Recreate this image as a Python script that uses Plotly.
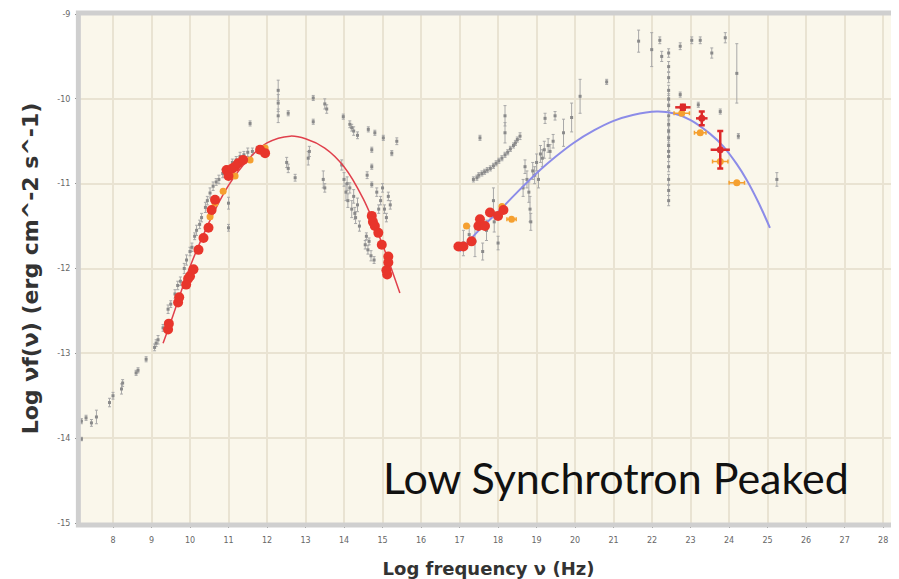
import plotly.graph_objects as go

# ---------------- data ----------------
# archival (gray) points: log nu, log nuFnu, vertical error
gray_x = [7.18, 7.30, 7.44, 7.57, 7.18, 7.91, 8.00, 8.22, 8.25, 8.60, 8.65, 8.86, 9.08, 9.12, 9.17, 9.30, 9.43, 9.50,
          9.61, 9.75, 9.91, 10.00, 10.17, 10.30, 10.52, 10.60, 10.75, 10.95, 11.10, 11.30, 11.50, 11.00, 11.00, 11.56,
          9.68, 9.85, 10.05, 10.12, 10.25, 10.40, 10.45, 10.68, 10.85, 11.20, 11.40, 11.62, 11.75,
          12.29, 12.29, 12.29, 12.55, 12.51, 12.55, 12.73, 13.07, 13.10, 13.20, 13.20, 13.50, 13.55, 13.46, 13.50, 13.94, 13.98,
          14.15, 14.20, 14.25, 14.35, 14.63, 14.80, 15.02, 15.37, 15.24, 14.72, 14.72, 14.72, 14.60,
          14.00, 14.05, 14.10, 14.20, 14.30, 14.35, 14.15, 14.40, 14.08, 14.25, 14.28,
          14.85, 14.95, 15.05, 15.15, 14.90, 15.10, 15.00, 15.20,
          14.55, 14.62, 14.70, 14.78, 14.65, 14.58,
          17.36, 17.45, 17.50, 17.58, 17.65, 17.72, 17.80, 17.88, 17.95, 18.02, 18.10, 18.18, 18.25, 18.32, 18.40, 18.45, 18.50, 18.57,
          17.53, 18.18, 18.18, 17.88, 17.90, 17.40, 18.00, 17.10, 17.25, 17.60, 17.70,
          18.65, 18.75, 18.83, 18.90, 19.00, 19.10, 19.20, 19.30, 19.43, 18.70, 19.05, 18.80, 18.95, 19.15, 19.35, 18.85,
          19.22, 19.48, 19.70, 19.91, 20.13, 20.82,
          22.43, 22.43, 22.43, 22.43, 22.43, 22.43, 22.43, 22.43, 22.43, 22.43, 22.43, 22.43, 22.43, 22.43, 22.43, 22.43, 22.43,
          21.65, 21.99, 22.20, 22.25, 22.73, 23.03, 23.25, 23.55, 23.90, 24.20, 22.73, 23.77, 23.20, 24.24, 25.24]
gray_y = [-13.80, -13.76, -13.82, -13.75, -14.01, -13.58, -13.50, -13.42, -13.35, -13.23, -13.20, -13.07, -12.93, -12.88, -12.84, -12.70, -12.48, -12.42,
          -12.30, -12.15, -11.90, -11.80, -11.55, -11.40, -11.11, -11.03, -10.95, -10.84, -10.75, -10.68, -10.63, -11.23, -11.52, -10.29,
          -12.20, -12.00, -11.75, -11.62, -11.48, -11.28, -11.20, -10.98, -10.88, -10.72, -10.66, -10.62, -10.60,
          -9.90, -10.05, -10.20, -10.17, -10.75, -10.82, -10.93, -10.70, -10.62, -9.99, -10.27, -10.06, -10.12, -10.95, -11.05, -10.78, -10.21,
          -10.30, -10.34, -10.38, -10.43, -10.36, -10.40, -10.46, -10.50, -10.64, -10.60, -10.80, -11.01, -10.90,
          -10.95, -11.10, -11.20, -11.30, -11.40, -11.25, -11.05, -11.50, -11.00, -11.15, -11.35,
          -11.10, -11.20, -11.30, -11.15, -11.30, -11.40, -11.05, -11.25,
          -11.72, -11.78, -11.85, -11.90, -11.68, -11.62,
          -10.95, -10.93, -10.90, -10.88, -10.86, -10.84, -10.82, -10.79, -10.76, -10.73, -10.70, -10.66, -10.63, -10.59, -10.55, -10.52, -10.48, -10.44,
          -10.46, -10.20, -10.40, -11.20, -11.45, -11.68, -11.70, -11.70, -11.60, -11.80, -11.55,
          -11.05, -10.95, -11.30, -10.85, -10.75, -10.65, -10.60, -10.55, -10.50, -10.80, -10.95, -11.10, -10.90, -10.70, -10.62, -11.45,
          -10.23, -10.20, -10.40, -10.22, -9.97, -9.80,
          -9.46, -9.62, -9.75, -9.90, -10.00, -10.08, -10.20, -10.30, -10.38, -10.46, -10.55, -10.62, -10.68, -10.80, -10.95, -11.08, -11.20,
          -9.32, -9.42, -9.31, -9.50, -9.38, -9.31, -9.31, -9.46, -9.28, -9.70, -9.95, -10.15, -10.07, -10.44, -10.95]
gray_err = [0.03, 0.03, 0.04, 0.08, 0.02, 0.05, 0.04, 0.06, 0.04, 0.03, 0.03, 0.03, 0.04, 0.04, 0.05, 0.04, 0.05, 0.04,
            0.05, 0.05, 0.06, 0.05, 0.06, 0.05, 0.06, 0.05, 0.05, 0.05, 0.04, 0.05, 0.05, 0.07, 0.04, 0.03,
            0.05, 0.06, 0.05, 0.04, 0.05, 0.06, 0.05, 0.04, 0.05, 0.04, 0.04, 0.04, 0.04,
            0.12, 0.10, 0.08, 0.03, 0.06, 0.05, 0.04, 0.08, 0.06, 0.03, 0.03, 0.06, 0.05, 0.10, 0.05, 0.06, 0.03,
            0.04, 0.04, 0.05, 0.04, 0.03, 0.03, 0.03, 0.04, 0.03, 0.03, 0.03, 0.03, 0.04,
            0.08, 0.10, 0.08, 0.10, 0.07, 0.08, 0.06, 0.06, 0.08, 0.08, 0.07,
            0.05, 0.05, 0.05, 0.05, 0.05, 0.05, 0.05, 0.05,
            0.05, 0.05, 0.06, 0.04, 0.04, 0.04,
            0.03, 0.03, 0.03, 0.03, 0.03, 0.03, 0.03, 0.03, 0.03, 0.03, 0.03, 0.03, 0.03, 0.03, 0.03, 0.03, 0.03, 0.04,
            0.03, 0.12, 0.12, 0.15, 0.12, 0.18, 0.08, 0.15, 0.10, 0.10, 0.12,
            0.10, 0.10, 0.15, 0.10, 0.10, 0.10, 0.10, 0.08, 0.08, 0.08, 0.10, 0.12, 0.10, 0.10, 0.08, 0.10,
            0.06, 0.05, 0.16, 0.17, 0.20, 0.03,
            0.05, 0.06, 0.06, 0.06, 0.06, 0.06, 0.06, 0.06, 0.06, 0.06, 0.06, 0.06, 0.06, 0.06, 0.06, 0.06, 0.06,
            0.13, 0.20, 0.04, 0.06, 0.04, 0.04, 0.04, 0.06, 0.06, 0.35, 0.03, 0.03, 0.03, 0.03, 0.08]

# simultaneous data (red)
red_x = [9.43, 9.45, 9.69, 9.72, 9.90, 9.95, 10.00, 10.09, 10.22, 10.35, 10.48, 10.56, 10.65, 10.95, 11.00, 11.10,
         11.17, 11.25, 11.38, 11.82, 11.95,
         14.72, 14.75, 14.80, 14.89, 14.98, 15.15, 15.15, 15.12, 15.10,
         16.97, 17.10, 17.31, 17.49, 17.53, 17.66, 17.79, 18.00, 18.14]
red_y = [-12.72, -12.65, -12.40, -12.34, -12.19, -12.12, -12.09, -12.01, -11.78, -11.64, -11.52, -11.31, -11.19, -10.84, -10.91, -10.82,
         -10.80, -10.76, -10.72, -10.60, -10.64,
         -11.38, -11.45, -11.50, -11.58, -11.72, -11.86, -11.93, -12.07, -12.02,
         -11.74, -11.74, -11.68, -11.50, -11.42, -11.50, -11.34, -11.38, -11.31]
# red gamma-ray points with error bars
redg_x = [22.80, 23.29, 23.77]
redg_y = [-10.10, -10.23, -10.60]
redg_xerr = [0.20, 0.15, 0.25]
redg_yerr = [0.03, 0.08, 0.22]

# orange points
orange_x = [10.52, 10.65, 10.86, 11.17, 11.56, 11.95, 17.18, 18.10, 18.35, 22.77, 23.25, 23.77, 24.20]
orange_y = [-11.39, -11.23, -11.09, -10.91, -10.72, -10.58, -11.50, -11.27, -11.42, -10.17, -10.40, -10.74, -10.99]
orange_xerr = [0, 0, 0, 0, 0, 0, 0, 0, 0.12, 0.20, 0.15, 0.20, 0.20]

# synchrotron fit (red curve)
sync_x = [9.30, 9.50, 10.00, 10.50, 11.00, 11.50, 12.00, 12.60, 13.00, 13.50, 14.00, 14.50, 15.00, 15.45]
sync_y = [-12.88, -12.63, -11.98, -11.45, -11.02, -10.72, -10.52, -10.44, -10.47, -10.58, -10.80, -11.18, -11.72, -12.29]

# inverse-Compton fit (blue curve)
ic_x = [17.00, 17.50, 18.05, 18.50, 19.09, 19.50, 19.96, 20.50, 21.00, 21.50, 22.12, 22.55, 23.00, 23.50, 23.85,
        24.20, 24.45, 24.75, 25.06]
ic_y = [-11.80, -11.55, -11.31, -11.10, -10.84, -10.68, -10.52, -10.37, -10.26, -10.19, -10.15, -10.17, -10.25, -10.41, -10.56,
        -10.77, -10.95, -11.21, -11.52]

x_ticks = list(range(8, 29))
y_ticks = [-15, -14, -13, -12, -11, -10, -9]

# ---------------- figure ----------------
fig = go.Figure()

fig.add_trace(go.Scatter(
    x=gray_x, y=gray_y, mode="markers",
    marker=dict(symbol="square", size=3, color="#8a8a8a"),
    error_y=dict(type="data", array=gray_err, color="#a8a8a8", thickness=1, width=1.5),
    showlegend=False, hoverinfo="x+y"))

fig.add_trace(go.Scatter(
    x=sync_x, y=sync_y, mode="lines", line=dict(color="#e0404c", width=1.5, shape="spline"),
    showlegend=False))
fig.add_trace(go.Scatter(
    x=ic_x, y=ic_y, mode="lines", line=dict(color="#8c8ce8", width=2, shape="spline"),
    showlegend=False))

fig.add_trace(go.Scatter(
    x=orange_x, y=orange_y, mode="markers",
    marker=dict(symbol="circle", size=7, color="#f5a030"),
    error_x=dict(type="data", array=orange_xerr, color="#f5a030", thickness=1.5, width=2),
    showlegend=False))

fig.add_trace(go.Scatter(
    x=red_x, y=red_y, mode="markers",
    marker=dict(symbol="circle", size=10, color="#e8352b"),
    showlegend=False))

fig.add_trace(go.Scatter(
    x=redg_x, y=redg_y, mode="markers",
    marker=dict(symbol="circle", size=7, color="#dd2a2a"),
    error_x=dict(type="data", array=redg_xerr, color="#dd2a2a", thickness=2.5, width=0),
    error_y=dict(type="data", array=redg_yerr, color="#dd2a2a", thickness=2.5, width=3),
    showlegend=False))

fig.add_annotation(x=21.06, y=-14.46, xref="x", yref="y", text="Low Synchrotron Peaked",
                   showarrow=False, font=dict(family="Lato", size=43, color="#111111"),
                   xanchor="center", yanchor="middle")

# plot frame
fig.add_shape(type="rect", xref="paper", yref="paper", x0=-0.002, y0=-0.004, x1=1.002, y1=1.002,
              line=dict(color="#cfcfcf", width=5), layer="above")

# the page body adds an 8px offset, so the figure is sized to fit the window
fig.update_layout(
    width=891, height=571,
    margin=dict(l=72, r=2, t=6, b=56),
    paper_bgcolor="white", plot_bgcolor="#faf7eb",
    font=dict(family="DejaVu Sans", color="#555555"),
    showlegend=False,
)
fig.update_xaxes(
    range=[7.143, 28.36], tickvals=x_ticks, ticktext=[str(v) for v in x_ticks], automargin=False,
    showgrid=True, gridcolor="#e9e3d2", gridwidth=1.5, zeroline=False,
    ticks="outside", ticklen=4, tickcolor="#888", tickfont=dict(size=8, color="#666"),
    ticklabelstandoff=5,
    title=dict(text="Log frequency ν (Hz)", font=dict(family="DejaVu Sans", size=18, color="#333333", weight="bold"), standoff=18),
)
fig.update_yaxes(
    range=[-15, -9], tickvals=y_ticks, ticktext=[str(v) for v in y_ticks], automargin=False,
    showgrid=True, gridcolor="#e9e3d2", gridwidth=1.5, zeroline=False,
    ticks="outside", ticklen=4, tickcolor="#888", tickfont=dict(size=8, color="#666"),
    ticklabelstandoff=3,
    title=dict(text="Log νf(ν) (erg cm^-2 s^-1)", font=dict(family="DejaVu Sans", size=22, color="#333333", weight="bold"), standoff=12),
)

fig.write_html("out.html")
